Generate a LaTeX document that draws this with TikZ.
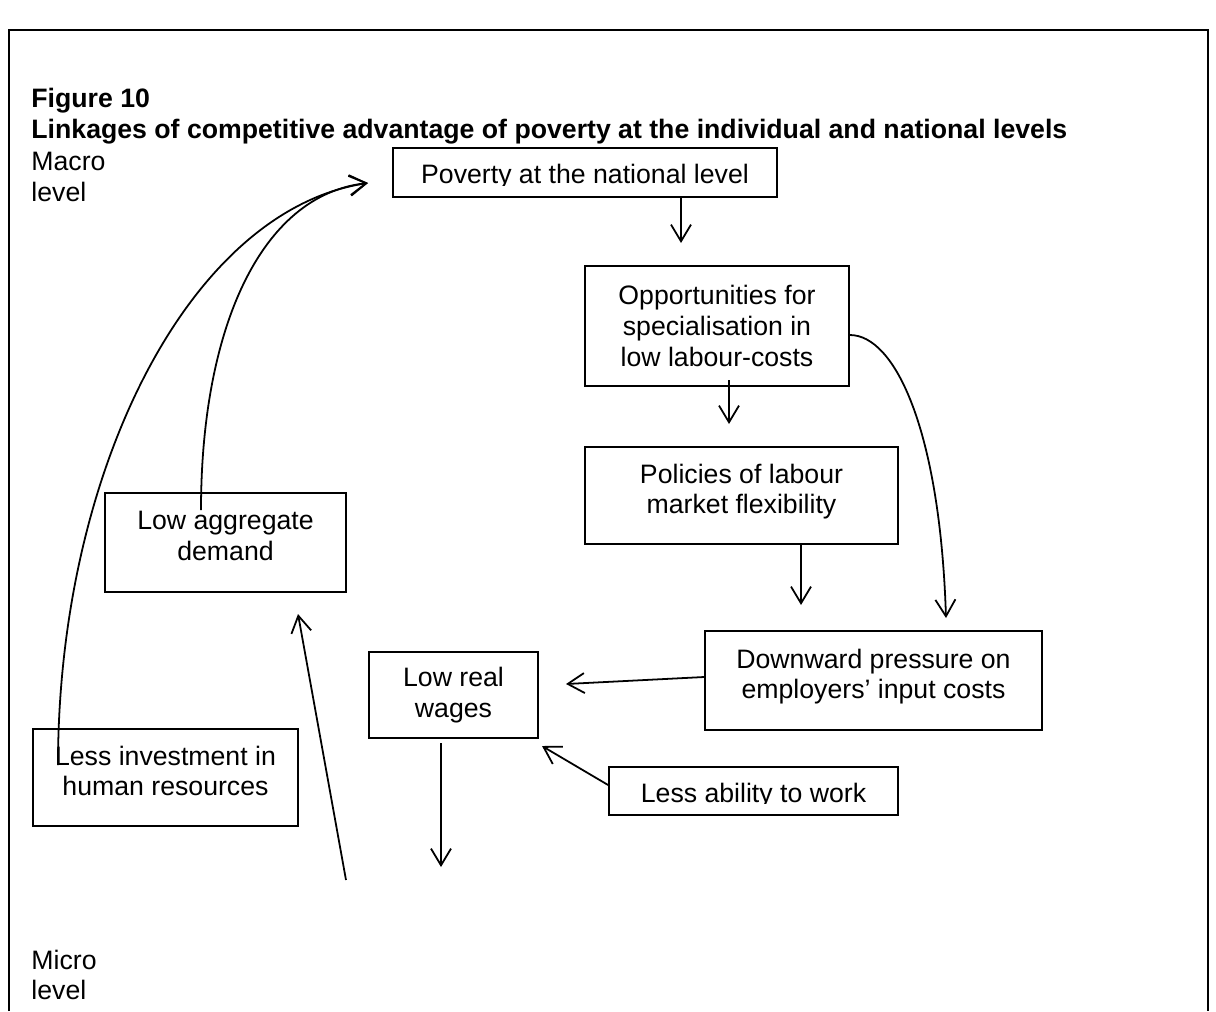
\documentclass[tikz,border=0pt]{standalone}
\usepackage{fontspec}
\setmainfont{Liberation Sans}
\usetikzlibrary{arrows.meta}

\tikzset{
  txt/.style={font=\fontsize{12}{13.8}\selectfont},
  lbl/.style={txt, inner sep=0pt, align=left},
  box/.style={txt, draw, line width=0.8pt, align=center, inner sep=0pt},
  high/.style={text depth=6pt},
  link/.style={line width=0.8pt, -{Straight Barb[length=7.5pt,width=9pt]}},
}

\begin{document}
\begin{tikzpicture}[x=0.45pt, y=-0.45pt]
\useasboundingbox (0,0) rectangle (1216,1011);

% open frame
\draw[line width=0.9pt] (9,1011) -- (9,30) -- (1208,30) -- (1208,1011);

\node[lbl, anchor=base west, font=\bfseries\fontsize{12}{13.8}\selectfont] (fig) at (31,107) {Figure 10};
\node[lbl, anchor=base west, font=\bfseries\fontsize{12}{13.8}\selectfont] (title) at (31,138)
  {Linkages of competitive advantage of poverty at the individual and national levels};

\node[lbl, anchor=west] (macro) at (31,177) {Macro\\level};
\node[lbl, anchor=west] (micro) at (31,975) {Micro\\level};

% boxes
\node[box, minimum width=384*0.45pt, minimum height=49*0.45pt] (pov) at (585,172.5) {};
\begin{scope}
\clip (393,148) rectangle (777,185);
\node[txt, anchor=base] (povtext) at (585,183) {Poverty at the national level};
\end{scope}

\node[box, minimum width=264*0.45pt, minimum height=120*0.45pt] (opp) at (717,326)
  {Opportunities for\\specialisation in\\low labour-costs};
\node[box, high, minimum width=313*0.45pt, minimum height=97*0.45pt] (pol) at (741.5,495.5)
  {Policies of labour\\market flexibility};
\node[box, high, minimum width=337*0.45pt, minimum height=99*0.45pt] (down) at (873.5,680.5)
  {Downward pressure on\\employers’ input costs};
\node[box, minimum width=169*0.45pt, minimum height=86*0.45pt] (wage) at (453.5,695)
  {Low real\\wages};

\node[box, minimum width=289*0.45pt, minimum height=48*0.45pt] (abil) at (753.5,791) {};
\begin{scope}
\clip (609,767) rectangle (898,803);
\node[txt, anchor=base] (abiltext) at (753.5,802) {Less ability to work};
\end{scope}

\node[box, high, minimum width=241*0.45pt, minimum height=99*0.45pt] (dem) at (225.5,542.5)
  {Low aggregate\\demand};
\node[box, high, minimum width=265*0.45pt, minimum height=97*0.45pt] (inv) at (165.5,777.5)
  {Less investment in\\human resources};

% arrow ends
\coordinate (povin) at (368,183);
\coordinate (d0) at (201,510);
\coordinate (i0) at (58,765);
\coordinate (a1) at (681,243);
\coordinate (a2) at (729,424);
\coordinate (a3) at (801,605);
\coordinate (a4) at (946,618);
\coordinate (a5) at (566,684);
\coordinate (a6) at (542,746);
\coordinate (a7) at (441,867);
\coordinate (b7) at (346,880);
\coordinate (a8) at (298,614);

\draw[link] (pov.south -| a1) -- (a1);
\draw[link] (729,380) -- (a2);
\draw[link] (pol.south -| a3) -- (a3);
\draw[link] (opp.east |- 0,335) .. controls (895,335) and (940,430) .. (a4);
\draw[link] (down.west |- 0,677) -- (a5);
\draw[link] (abil.west |- 0,785) -- (a6);
\draw[link] (441,743) -- (a7);
\draw[link] (b7) -- (a8);

\draw[link] (d0) .. controls (201,330) and (260,195) .. (povin);
\draw[link] (i0) .. controls (58,470) and (190,210) .. (povin);

\end{tikzpicture}
\end{document}
